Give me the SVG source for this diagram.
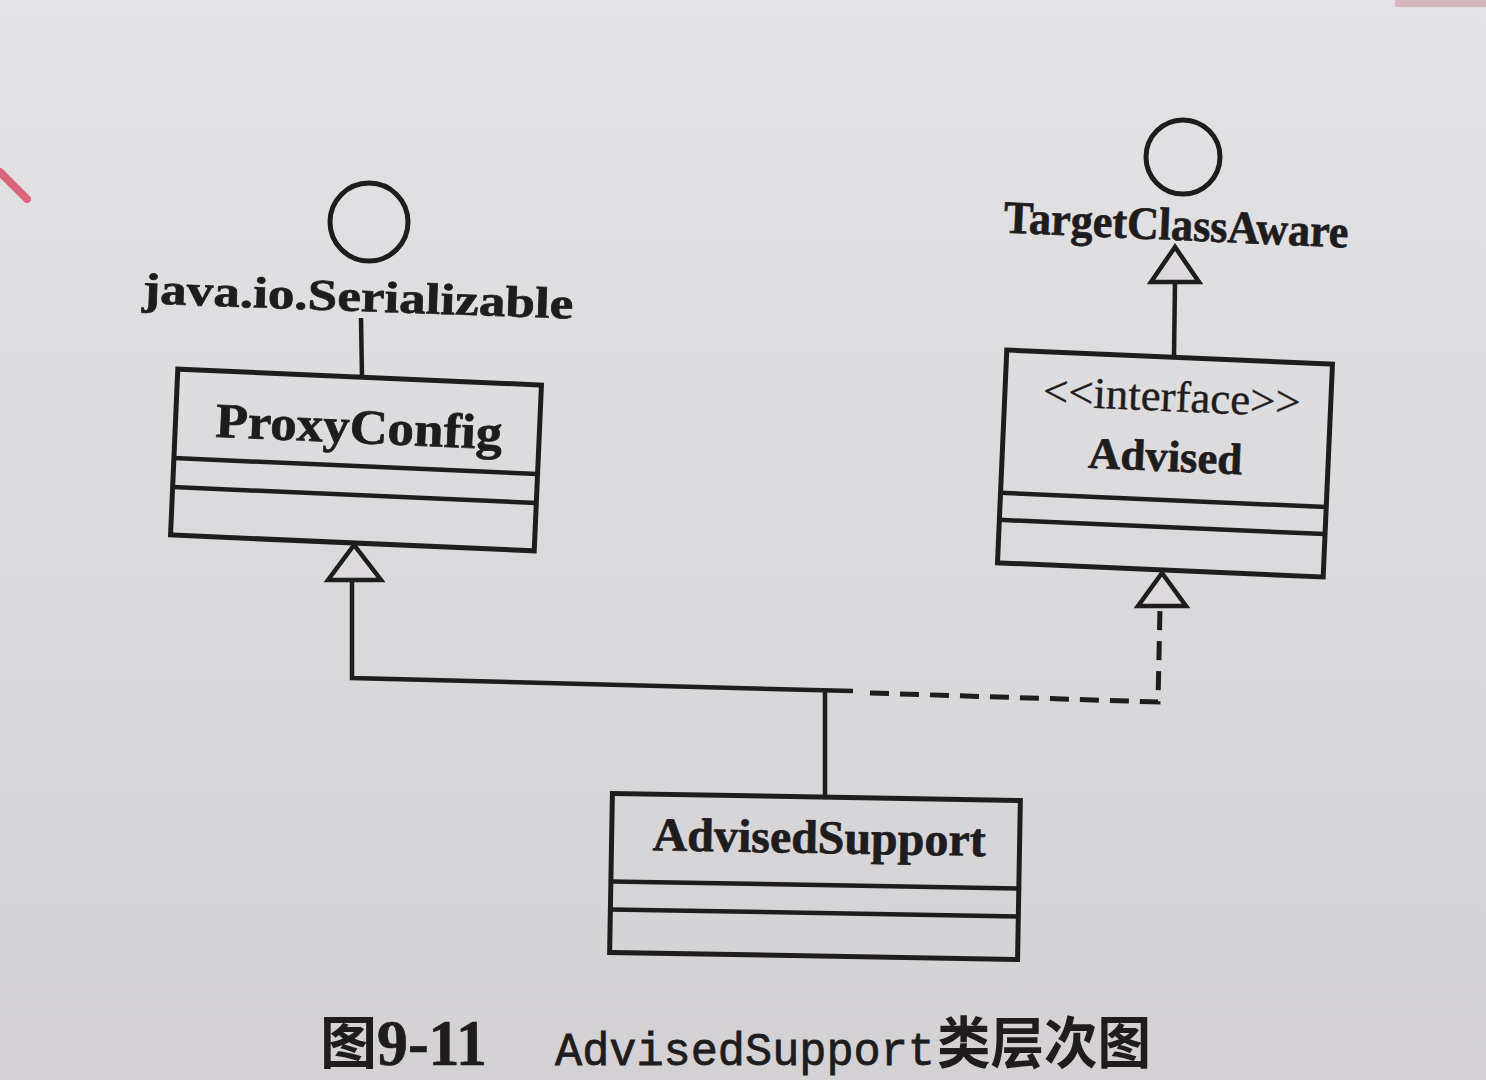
<svg xmlns="http://www.w3.org/2000/svg" width="1486" height="1080" viewBox="0 0 1486 1080">
<defs>
<linearGradient id="bg" x1="0" y1="0" x2="0" y2="1">
<stop offset="0" stop-color="#e3e2e5"/>
<stop offset="1" stop-color="#d3d1d3"/>
</linearGradient>
<style>
.ln{fill:none;stroke:#1e1c1d;stroke-width:4.5}
.box{fill:none;stroke:#1e1c1d;stroke-width:5}
.sep{stroke:#1e1c1d;stroke-width:4.5}
.tri{fill:#dcdadc;stroke:#1e1c1d;stroke-width:4.5;stroke-linejoin:miter}
.iface{fill:none;stroke:#1e1c1d;stroke-width:5}
.bt{font-family:"Liberation Serif","Times New Roman",serif;font-weight:bold;fill:#1e1c1d;stroke:#1e1c1d;stroke-width:0.7}
.rt{font-family:"Liberation Serif","Times New Roman",serif;fill:#1e1c1d;stroke:#1e1c1d;stroke-width:0.4}
.dash{fill:none;stroke:#1e1c1d;stroke-width:5;stroke-dasharray:19 11}
.cjk{font-family:"Noto Sans CJK SC",sans-serif;font-weight:bold;fill:#1e1c1d}
.mono{font-family:"Liberation Mono","Courier New",monospace;fill:#1e1c1d;stroke:#1e1c1d;stroke-width:0.8}
</style>
</defs>
<rect x="0" y="0" width="1486" height="1080" fill="url(#bg)"/>
<path d="M0,172 L27,199" stroke="#d9506c" stroke-width="8" stroke-linecap="round" opacity="0.85"/>
<rect x="1395" y="0" width="91" height="7" fill="#c98a93" opacity="0.5"/>

<g id="serializable">
<circle class="iface" cx="369" cy="222" r="39"/>
<text class="bt" x="142" y="311" font-size="44" textLength="431" lengthAdjust="spacingAndGlyphs" transform="rotate(2 357 311)">java.io.Serializable</text>
</g>

<g id="proxyconfig" transform="rotate(2.5 356 460)">
<rect class="box" x="174" y="377" width="364" height="166"/>
<line class="sep" x1="174" y1="466" x2="538" y2="466"/>
<line class="sep" x1="174" y1="495" x2="538" y2="495"/>
<text class="bt" x="214" y="443" font-size="49" textLength="287" lengthAdjust="spacingAndGlyphs">ProxyConfig</text>
</g>

<g id="targetclassaware">
<circle class="iface" cx="1183" cy="157" r="37"/>
<text class="bt" x="1003" y="240" font-size="46" textLength="345" lengthAdjust="spacingAndGlyphs" transform="rotate(2.5 1175 240)">TargetClassAware</text>
</g>

<g id="advised" transform="rotate(2.5 1165 463)">
<rect class="box" x="1002" y="357" width="326" height="213"/>
<line class="sep" x1="1002" y1="500" x2="1328" y2="500"/>
<line class="sep" x1="1002" y1="527" x2="1328" y2="527"/>
<text class="rt" x="1040" y="411" font-size="44" textLength="258" lengthAdjust="spacingAndGlyphs">&lt;&lt;interface&gt;&gt;</text>
<text class="bt" x="1088" y="471" font-size="44" textLength="154" lengthAdjust="spacingAndGlyphs">Advised</text>
</g>

<g id="advisedsupport" transform="rotate(1 815 876)">
<rect class="box" x="611" y="797" width="408" height="159"/>
<line class="sep" x1="611" y1="885" x2="1019" y2="885"/>
<line class="sep" x1="611" y1="913" x2="1019" y2="913"/>
<text class="bt" x="652" y="853" font-size="47" textLength="333" lengthAdjust="spacingAndGlyphs">AdvisedSupport</text>
</g>

<g id="connectors">
<line class="ln" x1="361" y1="318" x2="362" y2="377"/>
<line class="ln" x1="1175" y1="282" x2="1174" y2="357"/>
<polygon class="tri" points="1175,247 1151,282 1199,282"/>
<path class="ln" d="M352,580 L352,678 L853,691"/>
<polygon class="tri" points="354,545 328,580 381,580"/>
<line class="ln" x1="825" y1="690" x2="825" y2="797"/>
<path class="dash" d="M870,693 L1158,702 L1160,608"/>
<polygon class="tri" points="1162,573 1138,606 1186,606"/>
</g>

<g id="caption">
<text class="cjk" x="320" y="1063" font-size="57">图</text>
<text class="bt" x="377" y="1065" font-size="66" textLength="110" lengthAdjust="spacingAndGlyphs">9-11</text>
<text class="mono" x="555" y="1065" font-size="46" textLength="380" lengthAdjust="spacingAndGlyphs">AdvisedSupport</text>
<text class="cjk" x="937" y="1063" font-size="56" textLength="214" lengthAdjust="spacingAndGlyphs">类层次图</text>
</g>
</svg>
